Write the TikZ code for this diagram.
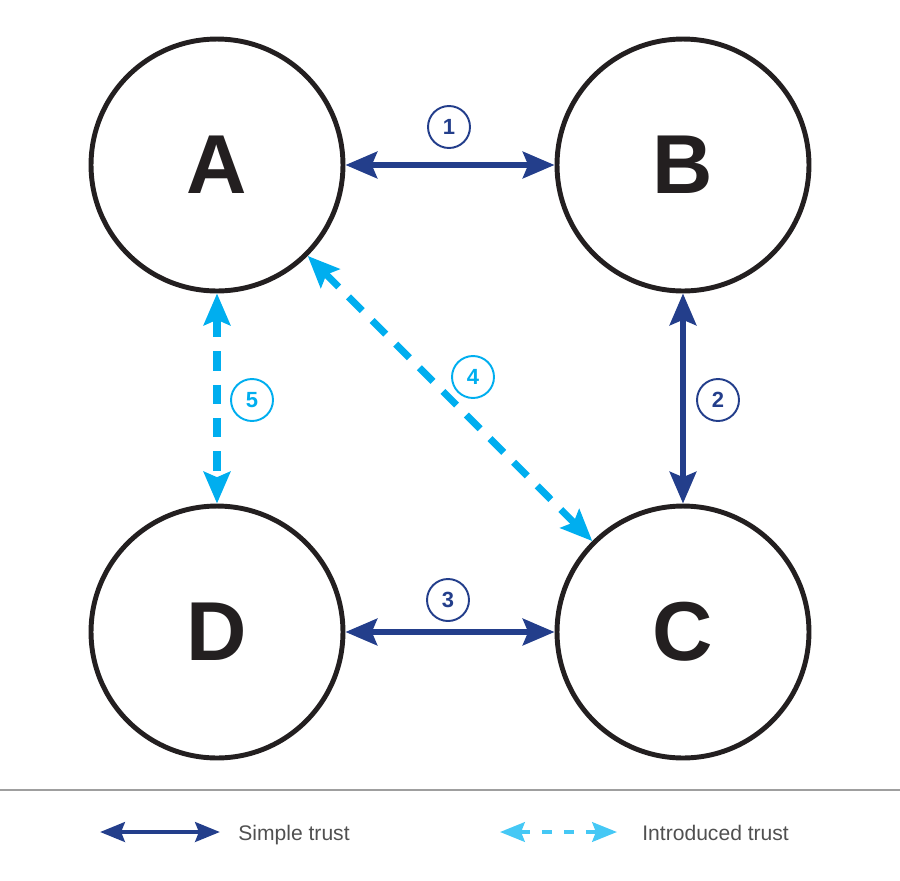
\documentclass[tikz,border=0pt]{standalone}
\usepackage{fontspec}
\setmainfont{Liberation Sans}
\usetikzlibrary{arrows.meta}
\definecolor{trustdark}{HTML}{233E8B}
\definecolor{trustlight}{HTML}{00AEEF}
\definecolor{legendlight}{HTML}{45C8F5}
\definecolor{ringblack}{HTML}{231F20}
\definecolor{legendgray}{HTML}{505050}
\begin{document}
\begin{tikzpicture}[x=0.02cm, y=-0.02cm,
    party/.style={circle, draw=ringblack, line width=2.8pt, minimum size=5.04cm, inner sep=0pt,
      text=ringblack, font=\fontsize{47.6}{50}\selectfont\bfseries},
    stepnum/.style={circle, draw, line width=1.1pt, minimum size=0.84cm, inner sep=0pt,
      font=\fontsize{12.5}{12.5}\selectfont\bfseries},
    simple/.style={trustdark, line width=3.4pt,
      {Stealth[length=18pt, width=15pt, inset=3pt]}-{Stealth[length=18pt, width=15pt, inset=3pt]}},
    introduced/.style={trustlight, line width=4pt, dash pattern=on 11pt off 8pt,
      {Stealth[length=18pt, width=15pt, inset=3pt]}-{Stealth[length=18pt, width=15pt, inset=3pt]}},
    legendtext/.style={anchor=base west, inner sep=0pt, text=legendgray, font=\fontsize{12}{14}\selectfont}]
    \useasboundingbox (0,0) rectangle (900,880);

    % The four parties
    \node[party] (A) at (217, 165) {A};
    \node[party] (B) at (683, 165) {B};
    \node[party] (C) at (683, 632) {C};
    \node[party] (D) at (217, 632) {D};

    % Simple trust
    \draw[simple] (A) -- (B);
    \draw[simple] (B) -- (C);
    \draw[simple] (D) -- (C);

    % Introduced trust
    \draw[introduced] (A) -- (C);
    \draw[introduced] (A) -- (D);

    % Step numbers
    \node[stepnum, trustdark]  (n1) at (449, 127) {1};
    \node[stepnum, trustdark]  (n2) at (718, 400) {2};
    \node[stepnum, trustdark]  (n3) at (448, 600) {3};
    \node[stepnum, trustlight] (n4) at (473, 377) {4};
    \node[stepnum, trustlight] (n5) at (252, 400) {5};

    % Legend
    \draw[gray!75, line width=0.85pt] (0, 790) -- (900, 790);
    \coordinate (s0) at (100, 832);
    \coordinate (s1) at (220, 832);
    \draw[trustdark, line width=2.8pt,
      {Stealth[length=14pt, width=11pt, inset=2pt]}-{Stealth[length=14pt, width=11pt, inset=2pt]}] (s0) -- (s1);
    \node[legendtext] (simpletxt) at (238, 840) {Simple trust};
    \coordinate (i0) at (500, 832);
    \coordinate (i1) at (617, 832);
    \draw[legendlight, line width=2.4pt, dash pattern=on 5.7pt off 6.8pt,
      {Stealth[length=14pt, width=11pt, inset=2pt]}-{Stealth[length=14pt, width=11pt, inset=2pt]}] (i0) -- (i1);
    \node[legendtext] (introtxt) at (642, 840) {Introduced trust};
\end{tikzpicture}
\end{document}
